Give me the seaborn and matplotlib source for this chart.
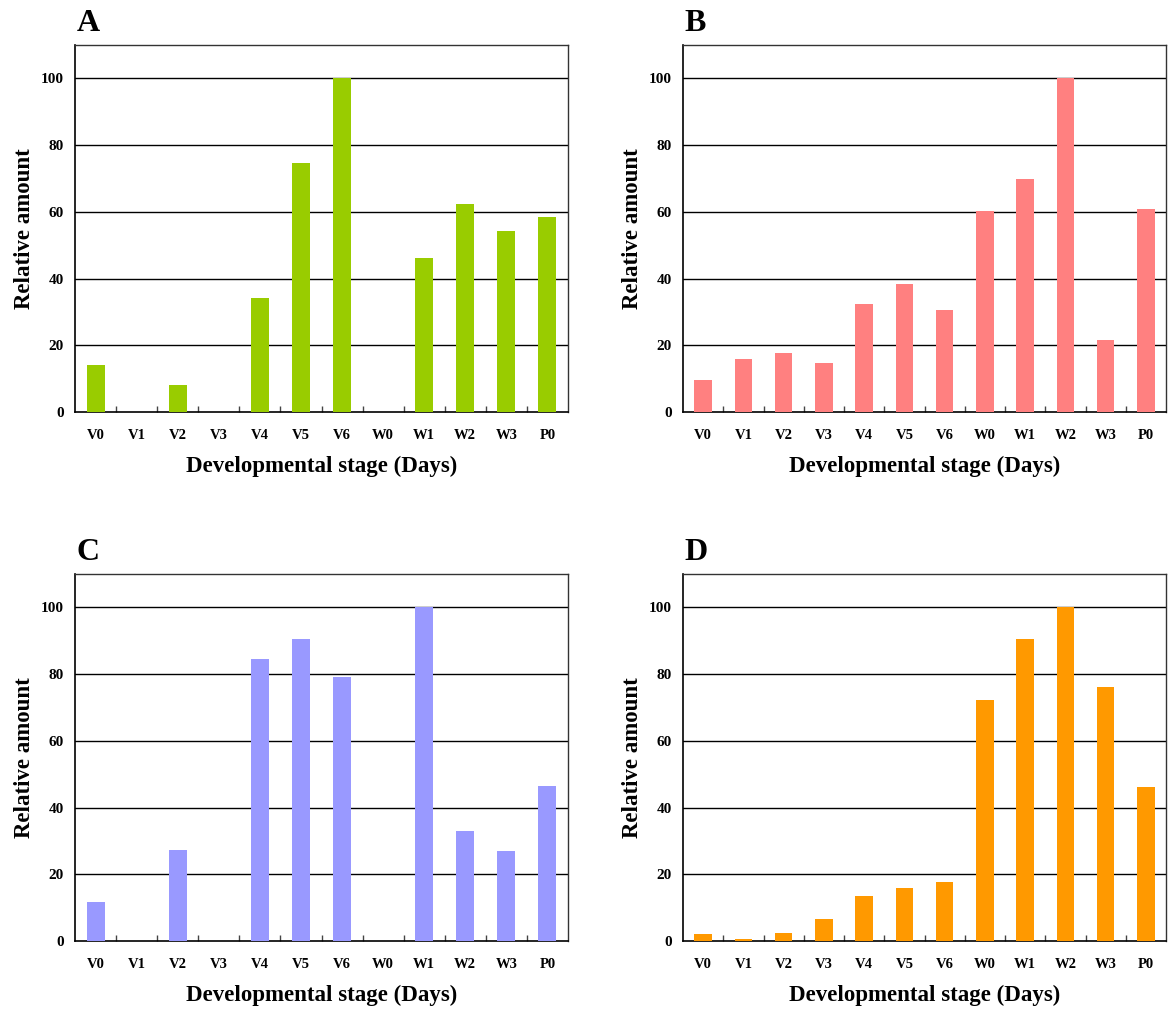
import matplotlib
matplotlib.use("Agg")
import matplotlib.pyplot as plt
import seaborn as sns
import pandas as pd
import numpy as np

stages = ["V0", "V1", "V2", "V3", "V4", "V5", "V6", "W0", "W1", "W2", "W3", "P0"]

panel_a = [14.0, 0.0, 8.1, 0.0, 34.2, 74.5, 100.0, 0.0, 46.2, 62.4, 54.4, 58.4]
panel_b = [9.7, 16.0, 17.8, 14.7, 32.3, 38.3, 30.6, 60.1, 69.9, 100.0, 21.6, 60.9]
panel_c = [11.6, 0.0, 27.2, 0.0, 84.6, 90.4, 79.2, 0.0, 100.0, 32.9, 26.9, 46.4]
panel_d = [2.0, 0.7, 2.3, 6.6, 13.5, 16.0, 17.7, 72.1, 90.6, 100.0, 76.2, 46.2]

panel_letters = ["A", "B", "C", "D"]
panel_colors = ["#99CC00", "#FF8080", "#9999FF", "#FF9900"]
y_ticks = [0, 20, 40, 60, 80, 100]

sns.set_theme(style="white")
plt.rcParams["font.family"] = ["Liberation Serif", "DejaVu Serif"]
plt.rcParams["font.weight"] = "bold"
for key in ("text.color", "axes.labelcolor", "xtick.color", "ytick.color"):
    plt.rcParams[key] = "black"

fig = plt.figure(figsize=(11.68, 10.09), dpi=100)
W, H = 1168, 1009
boxes = [(75, 45, 568, 412), (683, 45, 1166, 412),
         (75, 574, 568, 941), (683, 574, 1166, 941)]

series = [panel_a, panel_b, panel_c, panel_d]

for letter, color, values, (x0, y0, x1, y1) in zip(panel_letters, panel_colors, series, boxes):
    ax = fig.add_axes([x0 / W, 1 - y1 / H, (x1 - x0) / W, (y1 - y0) / H])
    df = pd.DataFrame({"stage": stages, "amount": values})
    sns.barplot(data=df, x="stage", y="amount", color=color, saturation=1,
                width=0.44, ax=ax, edgecolor="none", zorder=3)
    ax.set_ylim(0, 110)
    ax.set_xlim(-0.5, len(stages) - 0.5)
    ax.set_yticks(y_ticks)
    ax.set_yticklabels([str(t) for t in y_ticks], fontsize=11, fontweight="bold")
    ax.set_xticks(range(len(stages)))
    ax.set_xticklabels(stages, fontsize=10.5, fontweight="bold")
    ax.tick_params(axis="x", which="major", length=0, pad=12)
    ax.tick_params(axis="y", which="major", length=0, pad=8)
    ax.set_xticks(np.arange(0.5, len(stages) - 0.5, 1.0), minor=True)
    ax.tick_params(axis="x", which="minor", direction="in", length=4,
                   width=1, color="#444444", bottom=True)
    for t in y_ticks[1:]:
        ax.axhline(t, color="black", linewidth=1.0, zorder=2)
    for side, sp in ax.spines.items():
        sp.set_visible(True)
        sp.set_linewidth(1.2 if side in ("left", "bottom") else 1.0)
        sp.set_color("black" if side in ("left", "bottom") else "#333333")
    ax.set_xlabel("Developmental stage (Days)", fontsize=16.5, fontweight="bold", labelpad=10)
    ax.set_ylabel("Relative amount", fontsize=16.5, fontweight="bold", labelpad=4)
    ax.text(0.004, 1.018, letter, transform=ax.transAxes, fontsize=23,
            fontweight="bold", ha="left", va="bottom")

fig.savefig("out.png", dpi=100)
